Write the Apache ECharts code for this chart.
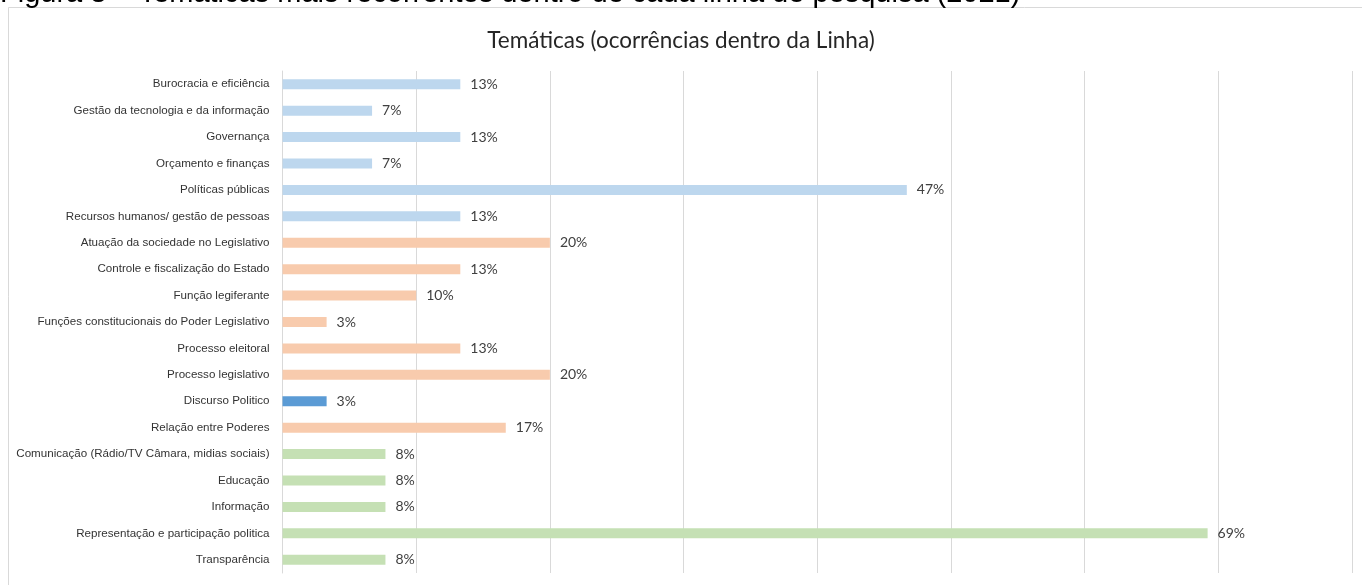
<!DOCTYPE html>
<html>
<head>
<meta charset="utf-8">
<script src="https://cdn.jsdelivr.net/npm/echarts@6/dist/echarts.min.js"></script>
<style>
html,body{margin:0;padding:0;background:#fff;}
#chart{width:1362px;height:585px;}
</style>
</head>
<body>
<div id="chart"></div>
<script>
const captionText = 'Figura 8 – Temáticas mais recorrentes dentro de cada linha de pesquisa (2021)';
const titleText = 'Temáticas (ocorrências dentro da Linha)';
const categories = [
  'Burocracia e eficiência',
  'Gestão da tecnologia e da informação',
  'Governança',
  'Orçamento e finanças',
  'Políticas públicas',
  'Recursos humanos/ gestão de pessoas',
  'Atuação da sociedade no Legislativo',
  'Controle e fiscalização do Estado',
  'Função legiferante',
  'Funções constitucionais do Poder Legislativo',
  'Processo eleitoral',
  'Processo legislativo',
  'Discurso Politico',
  'Relação entre Poderes',
  'Comunicação (Rádio/TV Câmara, midias sociais)',
  'Educação',
  'Informação',
  'Representação e participação politica',
  'Transparência'
];
const values = [13.3, 6.7, 13.3, 6.7, 46.7, 13.3, 20.0, 13.3, 10.0, 3.3, 13.3, 20.0, 3.3, 16.7, 7.7, 7.7, 7.7, 69.2, 7.7];
const groups = ['gestao','gestao','gestao','gestao','gestao','gestao',
  'legis','legis','legis','legis','legis','legis','discurso','legis',
  'comun','comun','comun','comun','comun'];
const groupColors = {gestao:'#BDD7EE', legis:'#F8CBAD', discurso:'#5B9BD5', comun:'#C5E0B4'};
const xTicks = {min:0, max:80, interval:10};

const chart = echarts.init(document.getElementById('chart'), null, {renderer:'canvas'});
chart.setOption({
  animation:false,
  backgroundColor:'#fff',
  graphic:[
    {type:'rect', shape:{x:8.5,y:7.5,width:1360,height:600}, style:{fill:'none', stroke:'#D9D9D9', lineWidth:1}, z:-1},
    {type:'text', left:0, top:-21, style:{text:captionText, font:'29px "Liberation Sans", Arial, sans-serif', fill:'#000'}}
  ],
  title:{
    text:titleText, left:'center', top:24,
    textStyle:{fontFamily:'Lato, "Open Sans", sans-serif', fontSize:22.5, fontWeight:'normal', color:'#262626'}
  },
  grid:{left:282.5, right:10, top:71, bottom:12, containLabel:false},
  xAxis:{
    type:'value', min:xTicks.min, max:xTicks.max, interval:xTicks.interval,
    axisLabel:{show:false}, axisLine:{show:false}, axisTick:{show:false},
    splitLine:{show:true, lineStyle:{color:'#D9D9D9', width:1}}
  },
  yAxis:{
    type:'category', data:categories, inverse:true,
    axisLine:{show:true, lineStyle:{color:'#D9D9D9'}}, axisTick:{show:false},
    axisLabel:{margin:13, fontFamily:'"Liberation Sans", sans-serif', fontSize:11.6, color:'#333333'}
  },
  series:[{
    type:'bar', barWidth:10,
    data: values.map((v,i)=>({value:v, itemStyle:{color:groupColors[groups[i]]}})),
    label:{show:true, position:'right', distance:10, formatter:p=>Math.round(p.value)+'%',
      fontFamily:'Lato, "Open Sans", sans-serif', fontSize:14, color:'#404040'}
  }]
});
</script>
</body>
</html>
